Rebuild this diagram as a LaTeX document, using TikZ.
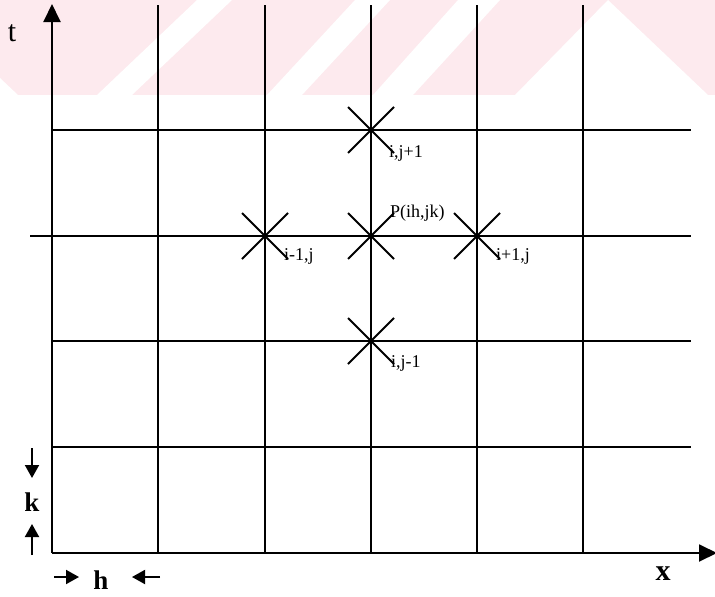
\documentclass[tikz,border=0pt]{standalone}
\usepackage{fontspec}
\setmainfont{Liberation Serif}
\usetikzlibrary{arrows.meta,shapes.misc}
\definecolor{wmpink}{RGB}{253,234,238}
\tikzset{
  gridline/.style={line width=1.9pt},
  stencil/.style={draw, cross out, line width=2pt, minimum width=44pt, minimum height=44pt, inner sep=0pt},
  ptlabel/.style={anchor=west, inner sep=0pt},
  axisarrow/.style={line width=1.9pt, -{Triangle[length=18pt,width=17pt]}},
  sizearrow/.style={line width=1.9pt, -{Triangle[length=13pt,width=14pt]}},
  biglabel/.style={font=\bfseries\fontsize{27}{29}\selectfont}
}

\begin{document}
\begin{tikzpicture}[x=1pt, y=-1pt, font=\fontsize{18}{20}\selectfont]
\useasboundingbox (0,0) rectangle (715,597);
% faint watermark band at the top
\fill[wmpink] (0,0) rectangle (715,95);
\fill[white] (0,78) -- (0,95) -- (18,95) -- cycle;
\fill[white] (97,95) -- (132,95) -- (232,0) -- (197,0) -- cycle;
\fill[white] (267,95) -- (302,95) -- (390,0) -- (355,0) -- cycle;
\fill[white] (373,95) -- (413,95) -- (500,0) -- (458,0) -- cycle;
\fill[white] (515,95) -- (608,0) -- (708,95) -- cycle;
% grid lines
\draw[gridline] (158,5) -- (158,553);
\draw[gridline] (265,5) -- (265,553);
\draw[gridline] (371,5) -- (371,553);
\draw[gridline] (477,5) -- (477,553);
\draw[gridline] (583,5) -- (583,553);
\draw[gridline] (52,130) -- (691,130);
\draw[gridline] (30,236) -- (691,236);
\draw[gridline] (52,341) -- (691,341);
\draw[gridline] (52,447) -- (691,447);
% axes
\coordinate (o) at (52,553);
\coordinate (tend) at (52,4);
\coordinate (xend) at (717,553);
\draw[axisarrow] (o) -- (tend);
\draw[axisarrow] (o) -- (xend);
\node[font=\fontsize{30}{32}\selectfont] (tlab) at (12,33) {t};
\node[biglabel, font=\bfseries\fontsize{30}{32}\selectfont] (xlab) at (663,574) {x};
% stencil points
\node[stencil] (cu) at (371,130) {};
\node[stencil] (cl) at (265,236) {};
\node[stencil] (pc) at (371,236) {};
\node[stencil] (cr) at (477,236) {};
\node[stencil] (cd) at (371,341) {};
\node[ptlabel] (lu) at ([xshift=-5pt]cu.south east) {i,j+1};
\node[ptlabel] (lp) at ([xshift=-4pt]pc.north east) {P(ih,jk)};
\node[ptlabel] (ll) at ([xshift=-4pt, yshift=3pt]cl.south east) {i-1,j};
\node[ptlabel] (lr) at ([xshift=-4pt, yshift=3pt]cr.south east) {i+1,j};
\node[ptlabel] (ld) at ([xshift=-3pt, yshift=1pt]cd.south east) {i,j-1};
% step sizes h and k
\coordinate (ktop) at (32,448);
\coordinate (ktip) at (32,478);
\coordinate (kbot) at (32,555);
\coordinate (kup) at (32,524);
\draw[sizearrow] (ktop) -- (ktip);
\draw[sizearrow] (kbot) -- (kup);
\node[biglabel] (klab) at (32,502) {k};
\coordinate (hleft) at (54,577);
\coordinate (htip) at (79,577);
\coordinate (hright) at (160,577);
\coordinate (hin) at (132,577);
\draw[sizearrow] (hleft) -- (htip);
\draw[sizearrow] (hright) -- (hin);
\node[biglabel] (hlab) at (101,580) {h};
\end{tikzpicture}
\end{document}
